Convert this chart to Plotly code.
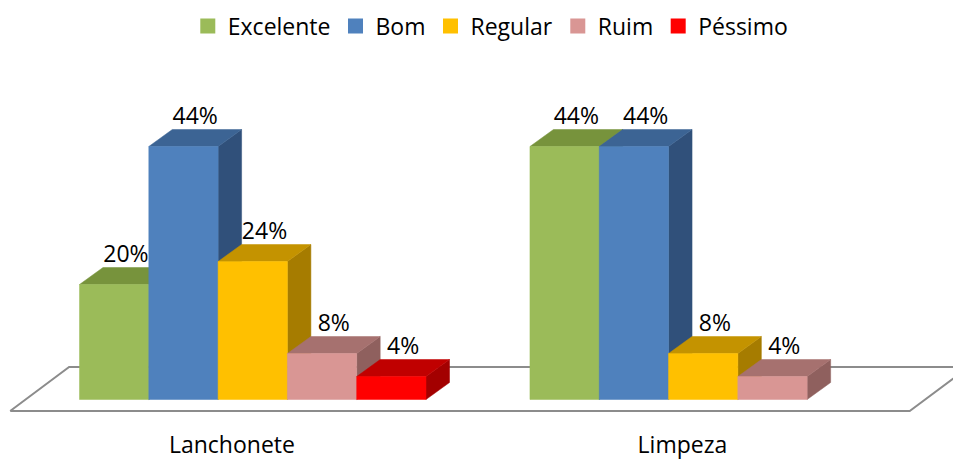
import plotly.graph_objects as go

# ---- data ----
categories = ["Lanchonete", "Limpeza"]
series_names = ["Excelente", "Bom", "Regular", "Ruim", "Péssimo"]
excelente = [20, 44]
bom = [44, 44]
regular = [24, 8]
ruim = [8, 4]
pessimo = [4, None]
series_values = [excelente, bom, regular, ruim, pessimo]

# ---- styles ----
front_colors = ["#9BBB59", "#4F81BD", "#FFC000", "#D99694", "#FF0000"]
top_colors = ["#77933C", "#3C6494", "#C49300", "#A6716F", "#C00000"]
side_colors = ["#5F7530", "#30507A", "#A67C00", "#8F605E", "#A30000"]

W, H = 953, 459
PX_PER_PCT = 5.75
BASE_PX = 399.5
BAR_PX = 69.3
ORIGIN_PX = 79.5
DX = 23.5 / BAR_PX          # depth offset (x units)
DY = 17.0 / PX_PER_PCT      # depth offset (y units)
GROUP_STEP = len(series_names) + 1.5
FONT = "Open Sans"

fig = go.Figure()

# floor
fl_x0, fl_x1 = -1.0, 11.98
fl_front = -2.0
fl_dx, fl_dy = 0.85, 7.65
fig.add_trace(go.Scatter(
    x=[fl_x0, fl_x1, fl_x1 + fl_dx, fl_x0 + fl_dx, fl_x0],
    y=[fl_front, fl_front, fl_front + fl_dy, fl_front + fl_dy, fl_front],
    mode="lines", fill="toself", fillcolor="white",
    line=dict(color="#8C8C8C", width=2), hoverinfo="skip", showlegend=False))

def poly(xs, ys, color):
    fig.add_trace(go.Scatter(x=xs + [xs[0]], y=ys + [ys[0]], mode="lines",
                             fill="toself", fillcolor=color,
                             line=dict(color=color, width=0.5),
                             hoverinfo="skip", showlegend=False))

lab_x, lab_y, lab_t = [], [], []
for g in range(len(categories)):
    for s, vals in enumerate(series_values):
        v = vals[g]
        if v is None:
            continue
        x0 = g * GROUP_STEP + s
        x1 = x0 + 1
        # side face
        poly([x1, x1 + DX, x1 + DX, x1], [0, DY, v + DY, v], side_colors[s])
        # top face
        poly([x0, x1, x1 + DX, x0 + DX], [v, v, v + DY, v + DY], top_colors[s])
        # front face
        poly([x0, x1, x1, x0], [0, 0, v, v], front_colors[s])
        lab_x.append(x0 + 0.5 + DX / 2)
        lab_y.append(v + DY)
        lab_t.append(f"{v}%")

fig.add_trace(go.Scatter(x=lab_x, y=lab_y, text=lab_t, mode="text",
                         textposition="top center",
                         textfont=dict(family=FONT, size=23, color="black"),
                         hoverinfo="skip", showlegend=False))

# category labels
cat_x = [g * GROUP_STEP + len(series_names) / 2 - 0.3 for g in range(len(categories))]
cat_y = [(BASE_PX - 447) / PX_PER_PCT] * len(categories)
fig.add_trace(go.Scatter(x=cat_x, y=cat_y, text=categories, mode="text",
                         textposition="middle center",
                         textfont=dict(family=FONT, size=23, color="black"),
                         hoverinfo="skip", showlegend=False))

# legend entries
for name, col in zip(series_names, front_colors):
    fig.add_trace(go.Scatter(x=[None], y=[None], mode="markers", name=name,
                             marker=dict(symbol="square", size=15, color=col)))

fig.update_layout(
    width=W, height=H,
    margin=dict(l=0, r=0, t=0, b=0),
    paper_bgcolor="white", plot_bgcolor="white",
    xaxis=dict(range=[-ORIGIN_PX / BAR_PX, (W - ORIGIN_PX) / BAR_PX],
               visible=False, fixedrange=True),
    yaxis=dict(range=[-(H - BASE_PX) / PX_PER_PCT, BASE_PX / PX_PER_PCT],
               visible=False, fixedrange=True),
    showlegend=True,
    legend=dict(orientation="h", x=0.515, xanchor="center", y=0.99, yanchor="top",
                font=dict(family=FONT, size=23, color="black"),
                bgcolor="rgba(0,0,0,0)", itemwidth=30),
    font=dict(family=FONT),
)

fig.write_html("out.html")
